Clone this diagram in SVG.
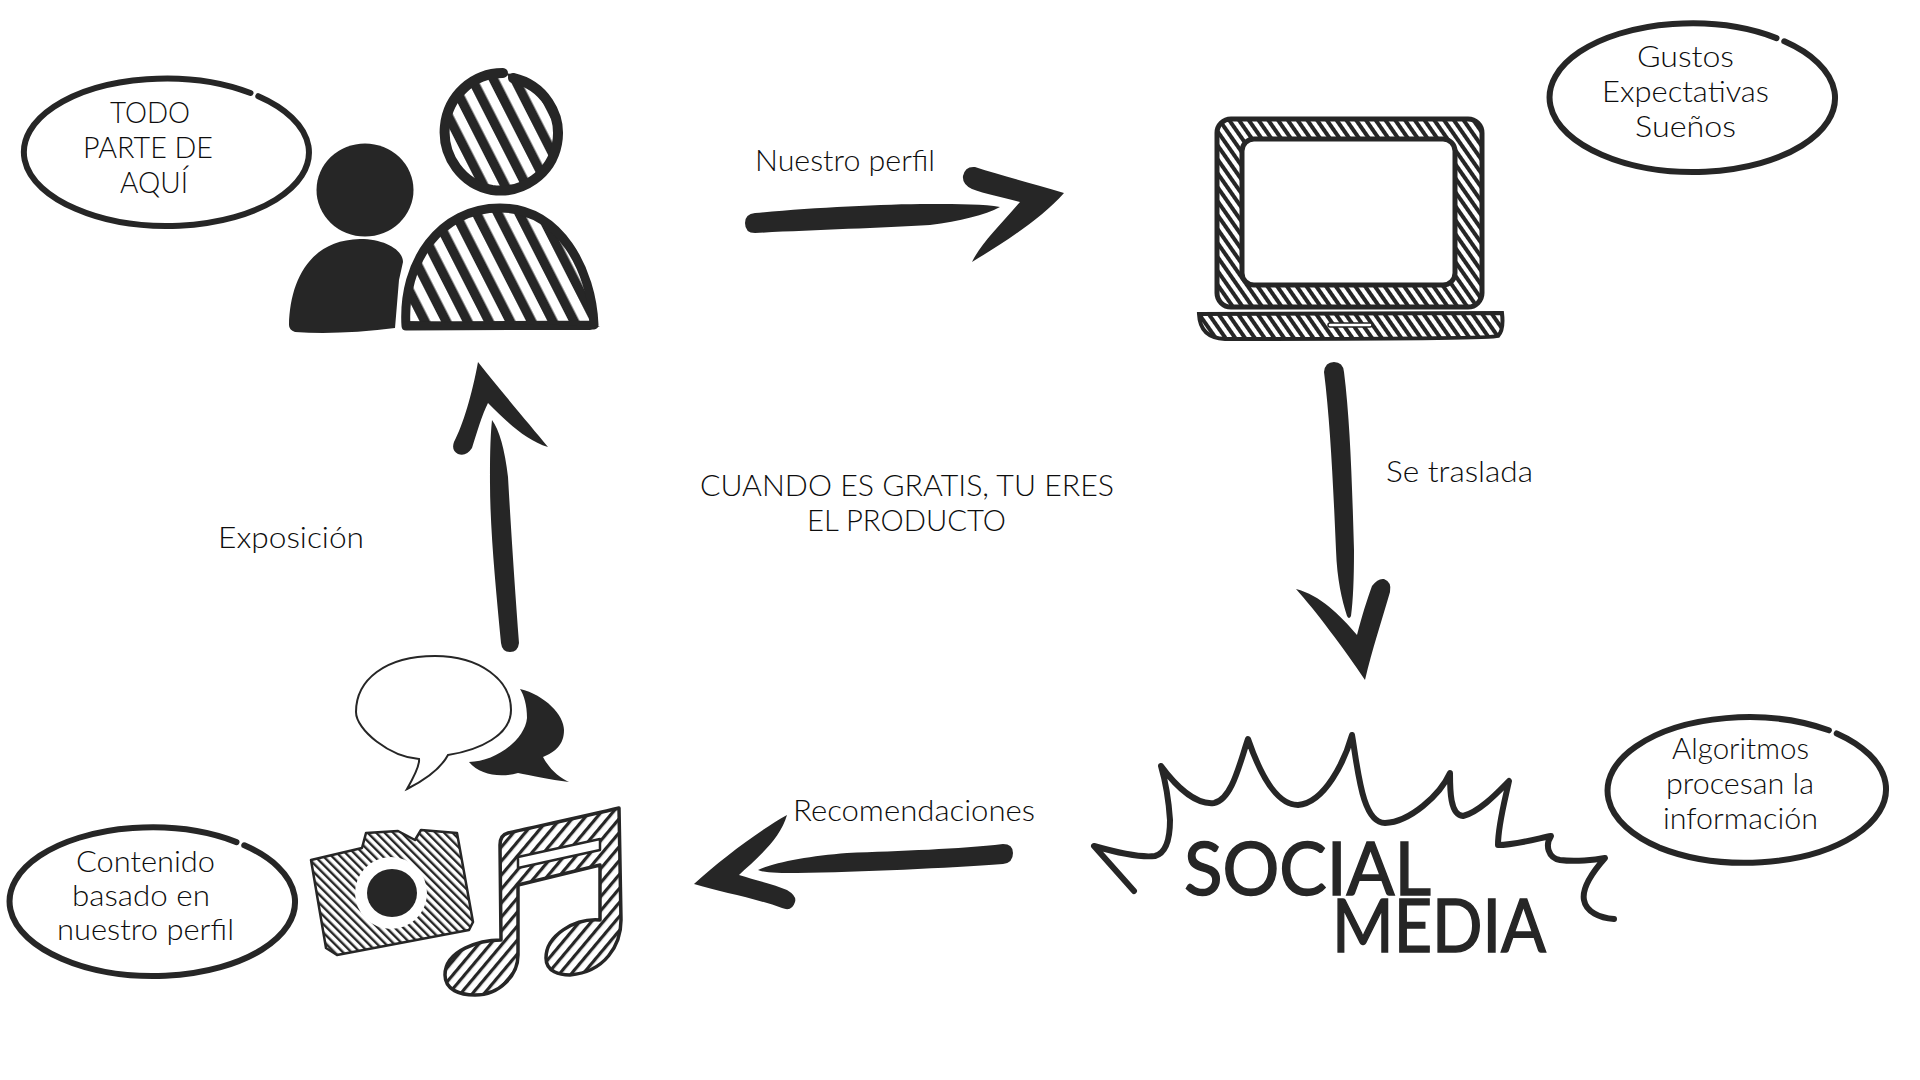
<svg xmlns="http://www.w3.org/2000/svg" width="1920" height="1080" viewBox="0 0 1920 1080">
<style>
text{font-family:"Lato","Open Sans",sans-serif;font-weight:300;font-size:29px;fill:#0d0d0d}
.ink{fill:#262626}
.oval{fill:none;stroke:#262626;stroke-width:6;stroke-linecap:round}
.big{font-weight:400;font-size:74px;fill:#262626;stroke:#262626;stroke-width:1.500}
</style>
<defs>
<pattern id="wide" width="19" height="40" patternUnits="userSpaceOnUse" patternTransform="rotate(-27)"><rect width="19" height="40" fill="#fff"/><rect width="9.500" height="40" fill="#262626"/></pattern>
<pattern id="fine" width="8" height="20" patternUnits="userSpaceOnUse" patternTransform="rotate(-35)"><rect width="8" height="20" fill="#fff"/><rect width="4" height="20" fill="#262626"/></pattern>
<pattern id="cam" width="6" height="20" patternUnits="userSpaceOnUse" patternTransform="rotate(-45)"><rect width="6" height="20" fill="#fff"/><rect width="2.400" height="20" fill="#262626"/></pattern>
<pattern id="note" width="9" height="20" patternUnits="userSpaceOnUse" patternTransform="rotate(40)"><rect width="9" height="20" fill="#fff"/><rect width="3.200" height="20" fill="#262626"/></pattern>
</defs>
<rect width="1920" height="1080" fill="#fff"/>

<g id="connectors" class="ink">
<g id="arrow-perfil"><path d="M745 223Q745 214 755 213C810 208 880 204 930 204C960 204 985 204 1000 207C985 215 960 221 930 225C880 228 810 230 755 233Q745 233 745 223Z"/><path d="M1064 193C1030 183 1000 175 975 167Q965 166 963 176Q962 184 972 189C985 194 1005 198 1020 202C1000 225 980 245 972 262C1000 245 1040 220 1064 193Z"/></g>
<g id="arrow-traslada"><path d="M1324 372Q1325 362 1334 362Q1343 362 1344 372C1350 420 1352 480 1354 550C1354 580 1353 600 1351 616Q1349 620 1347 616C1342 600 1337 580 1336 550C1333 480 1330 420 1324 372Z"/><path d="M1365 680C1345 650 1315 610 1296 589C1320 595 1340 615 1357 635C1362 615 1367 600 1372 586Q1378 578 1384 579Q1392 582 1390 592C1382 620 1372 650 1365 680Z"/></g>
<g id="arrow-recomendaciones"><path d="M1013 853Q1013 863 1003 864C950 868 860 872 797 873C780 873 765 873 758 870C775 862 810 856 847 853C900 851 960 849 1003 844Q1013 844 1013 853Z"/><path d="M694 884C720 860 760 830 787 815C780 840 755 860 739 875C755 880 775 885 787 890Q797 896 795 902Q792 912 782 908C755 898 720 892 694 884Z"/></g>
<g id="arrow-exposicion"><path d="M492 420Q503 435 508 477C511 530 515 590 519 643Q518 652 510 652Q502 652 501 643C496 590 490 530 490 483C490 460 490 440 492 420Z"/><path d="M478 362C500 390 530 425 548 447C525 440 505 420 488 403C482 415 477 432 472 448Q466 457 458 454Q451 450 454 442C463 425 472 395 478 362Z"/></g>
</g>

<g id="node-personas">
<ellipse class="ink" cx="365" cy="190" rx="48.500" ry="46.500"/>
<path class="ink" d="M289 325C290 280 310 240 360 239C385 239 403 250 403 262L399 280L395 328Q340 335 295 332Q289 330 289 325Z"/>
<path d="M512 74A58 59 0 0 1 492 190A58 59 0 0 1 504 73Z" fill="url(#wide)"/>
<path d="M513 78A58 57 0 0 1 492 190A58 59 0 0 1 503 73" fill="none" stroke="#262626" stroke-width="10" stroke-linecap="round"/>
<path d="M406 326C402 262 440 208 500 208C560 208 592 270 594 325Z" fill="url(#wide)" stroke="#262626" stroke-width="9" stroke-linejoin="round"/>
<path class="ink" d="M404 321L600 326L590 330L408 330Z"/>
</g>
<g id="node-todo">
<path class="oval" d="M258.300 96.200A142 73.500 0 0 1 75.700 208.800A142 73.500 0 0 1 250.500 93"/>
<text x="110" y="123" textLength="80" lengthAdjust="spacingAndGlyphs">TODO</text>
<text x="83" y="158" textLength="130" lengthAdjust="spacingAndGlyphs">PARTE DE</text>
<text x="120" y="193" textLength="68" lengthAdjust="spacingAndGlyphs">AQUÍ</text>
</g>

<g id="node-laptop">
<rect x="1217" y="119" width="265" height="188" rx="14" fill="url(#fine)" stroke="#262626" stroke-width="5"/>
<rect x="1242" y="139" width="213" height="146" rx="12" fill="#fff" stroke="#262626" stroke-width="5"/>
<path d="M1199 314L1502 313Q1504 330 1498 336Q1490 339 1225 339Q1200 338 1199 314Z" fill="url(#fine)" stroke="#262626" stroke-width="4"/>
<rect x="1328" y="323" width="44" height="4" rx="2" fill="#fff" stroke="#262626" stroke-width="1.500"/>
</g>
<g id="node-gustos">
<path class="oval" d="M1784.300 41.300A142 74 0 0 1 1601.700 154.700A142 74 0 0 1 1776.500 38.100"/>
<text x="1637" y="67" textLength="97" lengthAdjust="spacingAndGlyphs">Gustos</text>
<text x="1602" y="102" textLength="167" lengthAdjust="spacingAndGlyphs">Expectativas</text>
<text x="1635" y="137" textLength="101" lengthAdjust="spacingAndGlyphs">Sueños</text>
</g>

<g id="node-social">
<path d="M1134 891L1094 846C1115 852 1140 858 1155 856Q1170 852 1170 820Q1168 790 1161 766C1175 785 1195 805 1214 803C1232 800 1240 762 1248 739C1258 768 1275 805 1298 805C1325 803 1345 760 1352 735C1358 770 1362 823 1385 823C1410 822 1440 795 1450 773C1450 790 1450 815 1463 816C1480 812 1500 790 1509 781C1505 800 1498 825 1498 845C1515 845 1540 838 1551 836C1545 845 1548 858 1560 860C1575 862 1595 860 1605 858C1590 875 1582 890 1584 900C1586 912 1600 918 1614 919" fill="none" stroke="#262626" stroke-width="6" stroke-linecap="round" stroke-linejoin="round"/>
<text class="big" x="1184" y="895" textLength="247" lengthAdjust="spacingAndGlyphs">SOCIAL</text>
<text class="big" x="1332" y="952" textLength="214" lengthAdjust="spacingAndGlyphs">MEDIA</text>
</g>
<g id="node-algoritmos">
<path class="oval" d="M1836.700 733.400A141 73.500 0 0 1 1659.300 847.600A141 73.500 0 0 1 1828.900 730.300"/>
<text x="1672" y="759" textLength="137" lengthAdjust="spacingAndGlyphs">Algoritmos</text>
<text x="1666" y="794" textLength="148" lengthAdjust="spacingAndGlyphs">procesan la</text>
<text x="1663" y="829" textLength="155" lengthAdjust="spacingAndGlyphs">información</text>
</g>

<g id="node-contenido-icons">
<path class="ink" d="M520 689C545 695 564 715 564 730C564 745 555 752 543 757C550 770 560 778 569 782C550 780 530 775 518 773C500 778 480 775 469 762C495 762 525 740 527 718C527 705 524 695 520 689Z"/>
<path d="M407 789C415 775 420 765 419 759C390 757 356 730 356 712C356 680 385 656 435 656C480 656 511 680 511 710C511 735 480 750 448 755C440 770 425 780 407 789Z" fill="#fff" stroke="#262626" stroke-width="2"/>
<path d="M311 860L362 848L366 833L398 831L415 840L421 830L457 833L473 922L469 930L337 955L326 948Z" fill="url(#cam)" stroke="#262626" stroke-width="2.500" stroke-linejoin="round"/>
<ellipse cx="391" cy="893" rx="36" ry="36" fill="#fff"/>
<ellipse class="ink" cx="392" cy="893" rx="25" ry="24"/>
<path d="M619 808C590 815 530 828 508 833Q500 835 500 845L501 940C480 940 445 950 445 975C445 990 460 995 475 995C500 995 518 975 518 955L518 885L600 865L600 920C575 918 546 935 546 958C546 972 560 975 570 975C605 972 621 945 621 920Z" fill="url(#note)" stroke="#262626" stroke-width="3.500" stroke-linejoin="round"/>
<path d="M518 857L600 839L600 850L518 868Z" fill="#fff" stroke="#262626" stroke-width="2.500" stroke-linejoin="round"/>
</g>
<g id="node-contenido">
<path class="oval" d="M244.300 845.300A142 74 0 0 1 61.700 958.700A142 74 0 0 1 236.500 842.100"/>
<text x="76" y="872" textLength="139" lengthAdjust="spacingAndGlyphs">Contenido</text>
<text x="72" y="906" textLength="138" lengthAdjust="spacingAndGlyphs">basado en</text>
<text x="57" y="940" textLength="177" lengthAdjust="spacingAndGlyphs">nuestro perfil</text>
</g>

<g id="labels">
<text x="755" y="171" textLength="180" lengthAdjust="spacingAndGlyphs">Nuestro perfil</text>
<text x="1386" y="482" textLength="147" lengthAdjust="spacingAndGlyphs">Se traslada</text>
<text x="793" y="821" textLength="242" lengthAdjust="spacingAndGlyphs">Recomendaciones</text>
<text x="218" y="548" textLength="146" lengthAdjust="spacingAndGlyphs">Exposición</text>
<text x="700" y="496" textLength="414" lengthAdjust="spacingAndGlyphs">CUANDO ES GRATIS, TU ERES</text>
<text x="807" y="531" textLength="199" lengthAdjust="spacingAndGlyphs">EL PRODUCTO</text>
</g>
</svg>
